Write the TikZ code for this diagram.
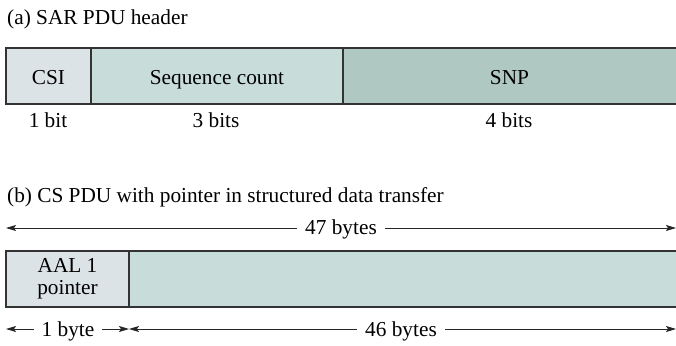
\documentclass[tikz,border=0pt]{standalone}
\usepackage{fontspec}
\setmainfont{Liberation Serif}
\usetikzlibrary{arrows.meta}
\definecolor{cLight}{HTML}{DCE3E6}
\definecolor{cMid}{HTML}{C8DCD9}
\definecolor{cDark}{HTML}{AFC8C2}
\definecolor{cEdge}{HTML}{333333}
\tikzset{
  txt/.style={font=\fontsize{21.3}{24}\selectfont, inner sep=0pt},
  boxline/.style={draw=cEdge, line width=1.4pt},
  dim/.style={line width=0.9pt, draw=black!85, -{Stealth[length=10pt,width=6pt,inset=2pt]}},
  dimlab/.style={txt, fill=white, inner xsep=8pt, inner ysep=2pt},
}
\begin{document}
\begin{tikzpicture}[x=1pt,y=-1pt]
\useasboundingbox (0,0) rectangle (676,345);
% (a)
\node[txt, anchor=base west] (ta) at (7,25) {(a) SAR PDU header};
\fill[cLight] (6,48) rectangle (91,104);
\fill[cMid] (91,48) rectangle (343,104);
\fill[cDark] (343,48) rectangle (676,104);
\draw[boxline] (676,48) -- (6,48) -- (6,104) -- (676,104);
\draw[boxline] (91,48) -- (91,104);
\draw[boxline] (343,48) -- (343,104);
\node[txt, anchor=base] (csi) at (48.5,84) {CSI};
\node[txt, anchor=base] (seq) at (217,84) {Sequence count};
\node[txt, anchor=base] (snp) at (509.5,84) {SNP};
\node[txt, anchor=base] (b1) at (48,127) {1 bit};
\node[txt, anchor=base] (b3) at (216,127) {3 bits};
\node[txt, anchor=base] (b4) at (509,127) {4 bits};
% (b)
\node[txt, anchor=base west] (tb) at (7,202) {(b) CS PDU with pointer in structured data transfer};
\coordinate (l47) at (6,228);
\coordinate (r47) at (676,228);
\draw[dim] (341,228) -- (l47);
\draw[dim] (341,228) -- (r47);
\node[dimlab, anchor=base] (n47) at (341,234) {47 bytes};
\fill[cLight] (6,251) rectangle (129,307);
\fill[cMid] (129,251) rectangle (676,307);
\draw[boxline] (676,251) -- (6,251) -- (6,307) -- (676,307);
\draw[boxline] (129,251) -- (129,307);
\node[txt, anchor=base] (aal1) at (67.5,272) {AAL 1};
\node[txt, anchor=base] (aal2) at (67.5,294) {pointer};
\coordinate (l1) at (6,329);
\coordinate (m1) at (129,329);
\coordinate (r1) at (676,329);
\draw[dim] (67,329) -- (l1);
\draw[dim] (67,329) -- (m1);
\node[dimlab, anchor=base] (n1) at (68,336) {1 byte};
\draw[dim] (402,329) -- (m1);
\draw[dim] (402,329) -- (r1);
\node[dimlab, anchor=base] (n46) at (401,336) {46 bytes};
\end{tikzpicture}
\end{document}
